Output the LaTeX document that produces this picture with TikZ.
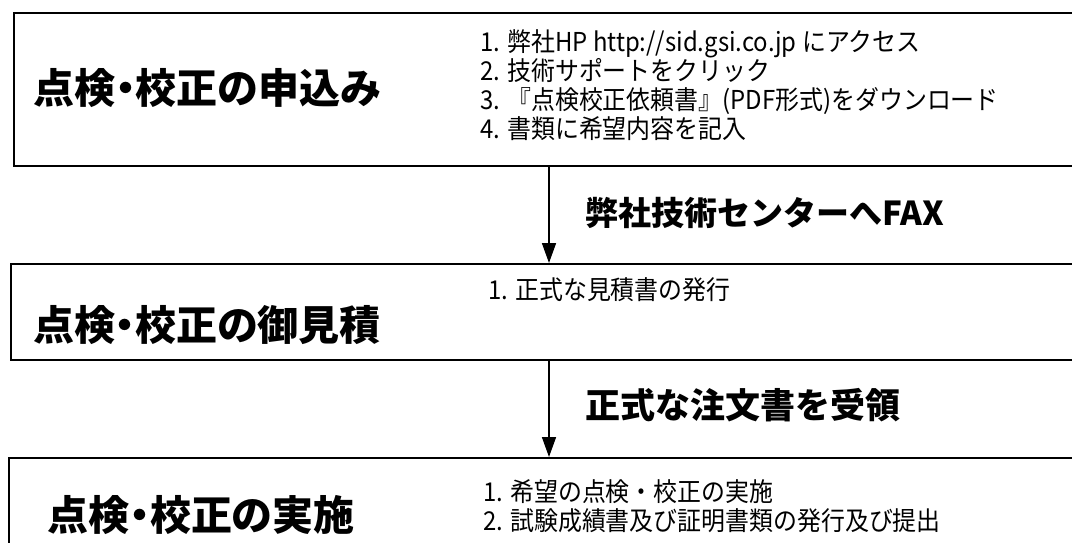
\documentclass[tikz,border=0pt]{standalone}
\usepackage{fontspec}
\newfontfamily\jp{Noto Sans CJK JP}
\newfontfamily\jpp[RawFeature=+palt]{Noto Sans CJK JP}
\newfontfamily\jpn[FakeStretch=0.92]{Noto Sans CJK JP}
\usetikzlibrary{arrows.meta}
\tikzset{
  box/.style={draw=black, line width=2.2pt, anchor=north west, inner sep=0pt},
  ttl/.style={font={\jpp\bfseries\fontsize{41}{46}\selectfont}, inner sep=0pt},
  lst/.style={font={\jpn\fontsize{26}{29}\selectfont}, align=left, anchor=west, inner sep=0pt},
  lbl/.style={font={\jp\bfseries\fontsize{33}{38}\selectfont}, anchor=west, inner sep=0pt},
  arr/.style={line width=1.6pt, -{Triangle[length=20pt, width=14pt]}}
}
\begin{document}
\begin{tikzpicture}[x=1pt,y=-1pt]
\useasboundingbox (0,0) rectangle (1072,542);
\clip (0,0) rectangle (1072,542);
\node[box, minimum width=1080pt, minimum height=153pt] (b1) at (13,12) {};
\node[box, minimum width=1080pt, minimum height=96pt] (b2) at (10,263) {};
\node[box, minimum width=1080pt, minimum height=110pt] (b3) at (8,457) {};
\node[ttl] (t1) at (207,88) {点検・校正の申込み};
\node[ttl] (t2) at (207,325) {点検・校正の御見積};
\node[ttl] (t3) at (201,515) {点検・校正の実施};
\node[lst] (l1) at (480,85) {1. 弊社HP http://sid.gsi.co.jp にアクセス\\2. 技術サポートをクリック\\3. 『点検校正依頼書』(PDF形式)をダウンロード\\4. 書類に希望内容を記入};
\node[lst] (l2) at (488,290) {1. 正式な見積書の発行};
\node[lst] (l3) at (483,506) {1. 希望の点検・校正の実施\\2. 試験成績書及び証明書類の発行及び提出};
\coordinate (ax) at (549,0);
\draw[arr] (b1.south -| ax) -- (b2.north -| ax);
\draw[arr] (b2.south -| ax) -- (b3.north -| ax);
\node[lbl] (f1) at (585,213) {弊社技術センターへFAX};
\node[lbl, font={\jp\bfseries\fontsize{35}{40}\selectfont}] (f2) at (585,405) {正式な注文書を受領};
\end{tikzpicture}
\end{document}
